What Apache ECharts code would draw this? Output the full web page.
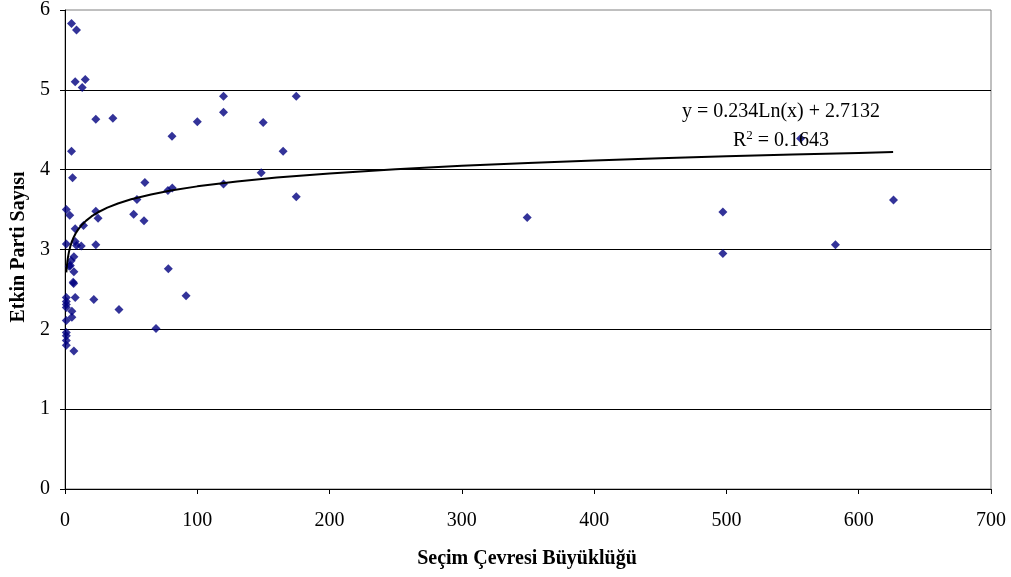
<!DOCTYPE html>
<html>
<head>
<meta charset="utf-8">
<script src="https://cdn.jsdelivr.net/npm/echarts@6/dist/echarts.min.js"></script>
<style>
html,body{margin:0;padding:0;background:#fff;}
#chart{width:1011px;height:577px;}
</style>
</head>
<body>
<div id="chart"></div>
<script>
// Seçim çevresi büyüklüğü (x) and etkin parti sayısı (y)
const districtSize = [
  1, 1, 1, 1, 1, 1, 1, 1, 1, 1, 1,
  3.6, 4.9, 8.7, 7.7, 15.3, 13, 23.3, 36.2, 100, 80.9,
  4.9, 5.7, 60.4, 77.8, 81.1, 54.4, 23.3, 25, 51.9, 59.7,
  7.7, 14, 7.7, 8.7, 12.3, 23.3, 6.7, 4.7, 3.2, 4,
  6.7, 6.2, 6.5, 7.7, 21.8, 5.2, 5.2, 6.7, 78.1, 91.5,
  40.8, 68.8, 119.8, 174.8, 119.8, 149.8, 164.9, 148.3, 119.8, 174.8,
  349.4, 497.3, 497.3, 582.4, 626.3, 556.1
];
const effectiveParties = [
  3.50, 3.07, 2.40, 2.35, 2.31, 2.275, 2.11, 1.96, 1.92, 1.86, 1.80,
  3.43, 5.83, 5.75, 5.10, 5.13, 5.03, 4.63, 4.645, 4.60, 4.42,
  4.23, 3.90, 3.84, 3.74, 3.77, 3.625, 3.48, 3.39, 3.44, 3.36,
  3.26, 3.30, 3.10, 3.05, 3.045, 3.06, 2.91, 2.86, 2.79, 2.80,
  2.72, 2.59, 2.575, 2.40, 2.375, 2.225, 2.15, 1.73, 2.76, 2.42,
  2.25, 2.01, 4.92, 4.92, 4.72, 4.59, 4.23, 3.96, 3.82, 3.66,
  3.40, 3.47, 2.95, 3.06, 3.62, 4.39
];
// Logarithmic trendline as printed on the chart: y = 0.234 Ln(x) + 2.7132
const trendCoefA = 0.234;
const trendCoefB = 2.7132;
const trendX = [1, 1.3, 1.7, 2.2, 3, 4, 5, 6.5, 8, 10, 13, 16, 20, 25, 32, 40, 50, 65, 80, 100, 130, 160, 200, 250, 300, 350, 400, 450, 500, 550, 600, 626];
const xTicks = [0, 100, 200, 300, 400, 500, 600, 700];
const yTicks = [0, 1, 2, 3, 4, 5, 6];
const xTitle = 'Seçim Çevresi Büyüklüğü';
const yTitle = 'Etkin Parti Sayısı';

const points = districtSize.map((x, i) => [x, effectiveParties[i]]);
const trend = trendX.map(x => [x, trendCoefA * Math.log(x) + trendCoefB]);

const FONT = '"Liberation Serif", "Times New Roman", serif';
const chart = echarts.init(document.getElementById('chart'), null, {renderer: 'canvas'});
chart.setOption({
  animation: false,
  backgroundColor: '#fff',
  grid: {left: 65, right: 20, top: 10, bottom: 88, show: true, borderColor: '#808080', borderWidth: 1, backgroundColor: 'transparent'},
  xAxis: {
    type: 'value', min: xTicks[0], max: xTicks[xTicks.length - 1], interval: 100,
    axisLine: {lineStyle: {color: '#000', width: 1}},
    axisTick: {show: true, inside: false, length: 5, lineStyle: {color: '#000'}},
    axisLabel: {color: '#000', fontFamily: FONT, fontSize: 20, margin: 22},
    splitLine: {show: false}
  },
  yAxis: {
    type: 'value', min: yTicks[0], max: yTicks[yTicks.length - 1], interval: 1,
    axisLine: {show: true, lineStyle: {color: '#000', width: 1}},
    axisTick: {show: true, inside: false, length: 5, lineStyle: {color: '#000'}},
    axisLabel: {color: '#000', fontFamily: FONT, fontSize: 20, margin: 15},
    splitLine: {show: true, showMaxLine: false, lineStyle: {color: '#000', width: 1}}
  },
  graphic: [
    {type: 'text', style: {text: yTitle, font: 'bold 20px ' + FONT, fill: '#000', textAlign: 'center', textVerticalAlign: 'middle'}, x: 19, y: 247, rotation: Math.PI / 2},
    {type: 'text', style: {text: xTitle, font: 'bold 20px ' + FONT, fill: '#000', textAlign: 'center', textVerticalAlign: 'middle'}, x: 527, y: 559},
    {type: 'text', style: {text: 'y = 0.234Ln(x) + 2.7132', font: '20px ' + FONT, fill: '#000', textAlign: 'center', textVerticalAlign: 'middle'}, x: 781, y: 112, z: 100},
    {type: 'text', style: {
      text: '{a|R}{s|2}{a| = 0.1643}', fill: '#000', textAlign: 'center', textVerticalAlign: 'middle',
      rich: {a: {fontFamily: FONT, fontSize: 20, fill: '#000', verticalAlign: 'bottom', lineHeight: 22}, s: {fontFamily: FONT, fontSize: 13, fill: '#000', verticalAlign: 'top', lineHeight: 22}}
    }, x: 781, y: 140, z: 100}
  ],
  series: [
    {
      type: 'scatter', data: points, symbol: 'diamond', symbolSize: 9,
      itemStyle: {color: '#000080'}, z: 3
    },
    {
      type: 'line', data: trend, showSymbol: false, smooth: false,
      lineStyle: {color: '#000', width: 2}, z: 4, silent: true
    }
  ]
});
</script>
</body>
</html>
